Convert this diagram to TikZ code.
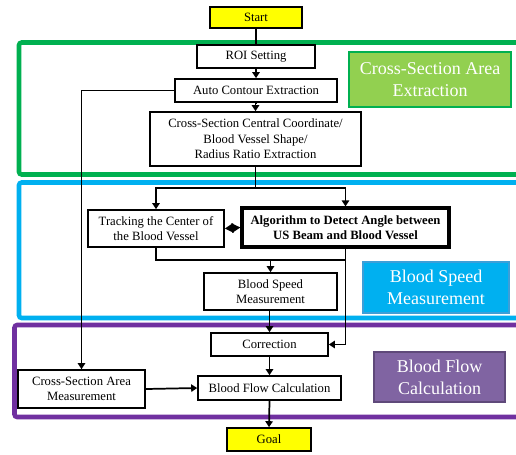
\documentclass[tikz,border=0pt]{standalone}
\usepackage{fontspec}
\setmainfont{Liberation Serif}
\usetikzlibrary{arrows.meta}
\definecolor{ylw}{HTML}{FFFF00}
\definecolor{grnframe}{HTML}{00B050}
\definecolor{grnfill}{HTML}{92D050}
\definecolor{bluframe}{HTML}{00B0F0}
\definecolor{blufill}{HTML}{00B0F0}
\definecolor{bluedge}{HTML}{3C9FD8}
\definecolor{purframe}{HTML}{7030A0}
\definecolor{purfill}{HTML}{8064A2}
\definecolor{puredge}{HTML}{5F497A}
\tikzset{
  box/.style={draw=black, line width=1.2pt, fill=white, align=center, inner sep=1pt,
    font=\fontsize{9.5}{11.6}\selectfont},
  boldbox/.style={box, line width=2.4pt, font=\fontsize{9.5}{11.6}\selectfont\bfseries},
  termbox/.style={box, fill=ylw},
  label/.style={align=center, text=white, line width=1.5pt, inner sep=1pt,
    font=\fontsize{13.5}{16.5}\selectfont},
  frame/.style={line width=3.4pt, rounded corners=2pt},
  conn/.style={line width=1.3pt},
  arr/.style={conn, -{Triangle[width=5.5pt,length=4.5pt]}},
  dbl/.style={conn, {Triangle[width=7pt,length=6.5pt]}-{Triangle[width=7pt,length=6.5pt]}}
}
\begin{document}
\begin{tikzpicture}[x=0.75pt, y=-0.75pt]
\useasboundingbox (0,0) rectangle (516,454);
\clip (0,0) rectangle (516,454);
\fill[white] (0,0) rectangle (516,454);

% frames (open to the right)
\draw[frame, grnframe] (530,42.5) -- (19,42.5) -- (19,174.5) -- (530,174.5);
\draw[frame, bluframe] (530,182.5) -- (19,182.5) -- (19,318) -- (530,318);
\draw[frame, purframe] (530,325) -- (14.5,325) -- (14.5,417) -- (530,417);

% section labels
\node[label, draw=grnframe, fill=grnfill, minimum width={162*0.75pt}, minimum height={55*0.75pt}]
  (lgreen) at (430,79.5) {Cross-Section Area\\Extraction};
\node[label, draw=bluedge, fill=blufill, minimum width={146*0.75pt}, minimum height={51*0.75pt}]
  (lblue) at (436,287.5) {Blood Speed\\Measurement};
\node[label, draw=puredge, fill=purfill, minimum width={131*0.75pt}, minimum height={50*0.75pt}]
  (lpurple) at (439.5,377) {Blood Flow\\Calculation};

% boxes
\node[termbox, minimum width={92*0.75pt}, minimum height={21*0.75pt}] (start) at (256,17.5) {Start};
\node[box, minimum width={118*0.75pt}, minimum height={23*0.75pt}] (roi) at (256,56.5) {ROI Setting};
\node[box, minimum width={162*0.75pt}, minimum height={23*0.75pt}] (auto) at (256,90.5) {Auto Contour Extraction};
\node[box, minimum width={211*0.75pt}, minimum height={54*0.75pt}] (central) at (255.5,139)
  {Cross-Section Central Coordinate/\\Blood Vessel Shape/\\Radius Ratio Extraction};
\node[box, minimum width={136*0.75pt}, minimum height={37*0.75pt}] (track) at (156,228.5)
  {Tracking the Center of\\the Blood Vessel};
\node[boldbox, minimum width={207*0.75pt}, minimum height={39*0.75pt}] (algo) at (345.5,227.5)
  {Algorithm to Detect Angle between\\US Beam and Blood Vessel};
\node[box, minimum width={133*0.75pt}, minimum height={37*0.75pt}] (speed) at (270.5,291.5)
  {Blood Speed\\Measurement};
\node[box, minimum width={117*0.75pt}, minimum height={23*0.75pt}] (corr) at (269.5,344.5) {Correction};
\node[box, minimum width={143*0.75pt}, minimum height={24*0.75pt}] (bfc) at (269.5,388) {Blood Flow Calculation};
\node[box, minimum width={127*0.75pt}, minimum height={38*0.75pt}] (csam) at (81.5,389)
  {Cross-Section Area\\Measurement};
\node[termbox, minimum width={84*0.75pt}, minimum height={23*0.75pt}] (goal) at (269,439.5) {Goal};

% connectors
\coordinate (fork) at (255.5,188);
\coordinate (join) at (345.5,260);
\draw[conn] (start.south) -- (roi.north);
\draw[arr] (roi.south) -- (auto.north);
\draw[arr] (auto.south) -- (central.south |- auto.south) -- (central.north);
\draw[conn] (central.south) -- (fork);
\draw[arr] (fork) -| (track.north);
\draw[arr] (fork) -| (algo.north);
\draw[dbl] (track.east) -- (algo.west);
\draw[conn] (track.south) |- (join);
\draw[arr] (speed.north |- join) -- (speed.north);
\draw[arr] (algo.south) |- (corr.east);
\draw[arr] (speed.south -| corr.north) -- (corr.north);
\draw[arr] (corr.south) -- (bfc.north);
\draw[arr] (auto.west) -| (csam.north);
\draw[arr] (csam.east) -- (bfc.west);
\draw[arr] (bfc.south) -- (goal.north);
\end{tikzpicture}
\end{document}
